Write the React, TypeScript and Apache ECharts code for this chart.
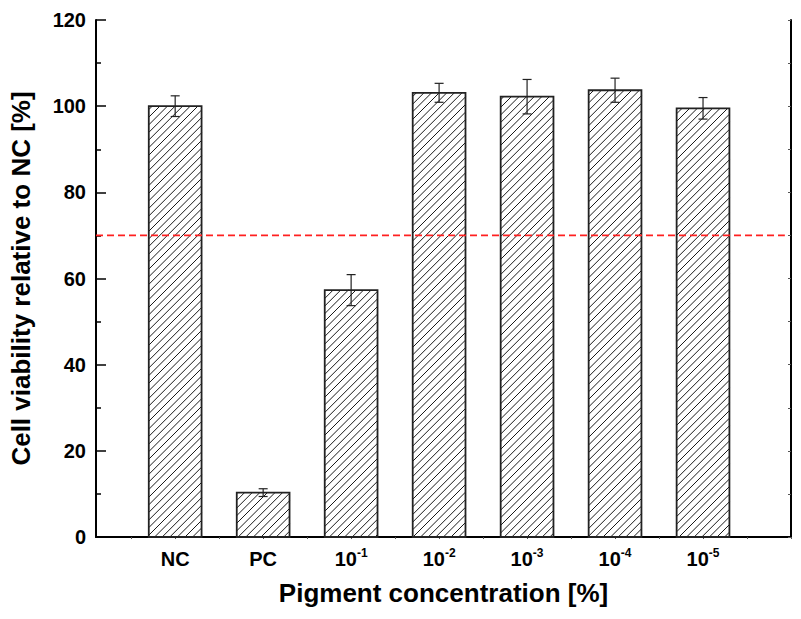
import React, { useEffect, useRef } from 'react';
import * as echarts from 'echarts';

const categories = ['NC', 'PC', '10^-1', '10^-2', '10^-3', '10^-4', '10^-5'];
const positions = [1, 2, 3, 4, 5, 6, 7];
const viability = [100.0, 10.3, 57.3, 103.1, 102.2, 103.7, 99.5];
const errors = [2.4, 0.9, 3.6, 2.2, 4.0, 2.8, 2.5];
const topTicks = [0.5, 1, 1.5, 2, 2.5, 3, 3.5, 4, 4.5, 5, 5.5, 6, 6.5, 7, 7.5, 8];
const threshold = 70;
const thresholdSpan = [0.1, 7.93];

const FONT = 'Liberation Sans, Arial, Helvetica, sans-serif';

function labelFor(v: number): string {
  const i = Math.round(v) - 1;
  const c = categories[i];
  if (c === undefined) return '';
  if (c.indexOf('^') >= 0) {
    const [b, e] = c.split('^');
    return `{b|${b}}{sup|${e}}`;
  }
  return `{b|${c}}`;
}

export default function App() {
  const ref = useRef<HTMLDivElement>(null);
  useEffect(() => {
    if (!ref.current) return;
    const chart = echarts.init(ref.current, null, { renderer: 'svg' });
    const barData = positions.map((p, i) => [p, viability[i], errors[i]]);

    const option: any = {
      animation: false,
      backgroundColor: '#fff',
      textStyle: { fontFamily: FONT },
      grid: { left: 96, right: 10, top: 20, bottom: 82, containLabel: false },
      xAxis: [
        {
          type: 'value',
          position: 'bottom',
          min: 0.1,
          max: 8,
          name: 'Pigment concentration [%]',
          nameLocation: 'middle',
          nameGap: 43,
          nameTextStyle: { fontFamily: FONT, fontSize: 26, fontWeight: 'bold', color: '#000' },
          axisLine: { show: true, lineStyle: { color: '#000', width: 2 } },
          axisTick: { show: true, inside: true, length: 8, customValues: positions, lineStyle: { color: '#000', width: 1.5 } },
          axisLabel: {
            show: true,
            customValues: positions,
            margin: 10,
            fontFamily: FONT,
            fontSize: 20,
            fontWeight: 'bold',
            color: '#000',
            formatter: labelFor,
            rich: {
              b: { fontFamily: FONT, fontSize: 20, fontWeight: 'bold', color: '#000', lineHeight: 22, verticalAlign: 'bottom' },
              sup: { fontFamily: FONT, fontSize: 12, fontWeight: 'bold', color: '#000', lineHeight: 12, verticalAlign: 'top' },
            },
          },
          splitLine: { show: false },
        },
        {
          type: 'value',
          position: 'top',
          min: 0.1,
          max: 8,
          axisLine: { show: true, lineStyle: { color: '#000', width: 1.5 } },
          axisTick: { show: true, inside: true, length: 2, customValues: topTicks, lineStyle: { color: '#555', width: 1 } },
          axisLabel: { show: false },
          splitLine: { show: false },
        },
      ],
      yAxis: [
        {
          type: 'value',
          position: 'left',
          min: 0,
          max: 120,
          interval: 20,
          name: 'Cell viability relative to NC [%]',
          nameLocation: 'middle',
          nameGap: 62,
          nameTextStyle: { fontFamily: FONT, fontSize: 26, fontWeight: 'bold', color: '#000' },
          axisLine: { show: true, lineStyle: { color: '#000', width: 2 } },
          axisTick: { show: true, inside: true, length: 10, lineStyle: { color: '#000', width: 1.5 } },
          minorTick: { show: true, splitNumber: 2, length: 5, lineStyle: { color: '#000', width: 1.5 } },
          axisLabel: {
            show: true,
            margin: 10,
            fontFamily: FONT,
            fontSize: 20,
            fontWeight: 'bold',
            color: '#000',
            formatter: '{v|{value}}',
            rich: {
              v: { fontFamily: FONT, fontSize: 20, fontWeight: 'bold', color: '#000', lineHeight: 22 },
            },
          },
          splitLine: { show: false },
        },
        {
          type: 'value',
          position: 'right',
          min: 0,
          max: 120,
          interval: 10,
          axisLine: { show: true, lineStyle: { color: '#000', width: 2 } },
          axisTick: { show: true, inside: true, length: 3, lineStyle: { color: '#555', width: 1 } },
          axisLabel: { show: false },
          splitLine: { show: false },
        },
      ],
      series: [
        {
          type: 'custom',
          name: 'bars',
          xAxisIndex: 0,
          yAxisIndex: 0,
          data: barData,
          encode: { x: 0, y: 1 },
          z: 2,
          renderItem: (params: any, api: any) => {
            const x = api.value(0);
            const y = api.value(1);
            const top = api.coord([x, y]);
            const base = api.coord([x, 0]);
            const bw = api.size([0.6, 0])[0];
            const x0 = top[0] - bw / 2;
            const x1 = top[0] + bw / 2;
            const y0 = top[1];
            const y1 = base[1];
            const step = 7.6;
            const children: any[] = [
              { type: 'rect', shape: { x: x0, y: y0, width: x1 - x0, height: y1 - y0 }, style: { fill: '#fff', stroke: 'none' } },
            ];
            for (let c = Math.ceil((x0 + y0) / step) * step; c <= x1 + y1; c += step) {
              const xa = Math.max(x0, c - y1);
              const xb = Math.min(x1, c - y0);
              if (xb > xa) {
                children.push({
                  type: 'line',
                  shape: { x1: xa, y1: c - xa, x2: xb, y2: c - xb },
                  style: { stroke: '#1a1a1a', lineWidth: 1 },
                });
              }
            }
            children.push({
              type: 'rect',
              shape: { x: x0, y: y0, width: x1 - x0, height: y1 - y0 },
              style: { fill: 'none', stroke: '#222', lineWidth: 1.8 },
            });
            return { type: 'group', children };
          },
        },
        {
          type: 'custom',
          name: 'errors',
          xAxisIndex: 0,
          yAxisIndex: 0,
          data: barData,
          encode: { x: 0, y: 1 },
          z: 3,
          renderItem: (params: any, api: any) => {
            const x = api.value(0);
            const y = api.value(1);
            const e = api.value(2);
            const hi = api.coord([x, y + e]);
            const lo = api.coord([x, y - e]);
            const cap = 4.5;
            const st = { stroke: '#222', lineWidth: 1.2 };
            return {
              type: 'group',
              children: [
                { type: 'line', shape: { x1: hi[0], y1: hi[1], x2: lo[0], y2: lo[1] }, style: st },
                { type: 'line', shape: { x1: hi[0] - cap, y1: hi[1], x2: hi[0] + cap, y2: hi[1] }, style: st },
                { type: 'line', shape: { x1: lo[0] - cap, y1: lo[1], x2: lo[0] + cap, y2: lo[1] }, style: st },
              ],
            };
          },
        },
        {
          type: 'line',
          name: 'threshold',
          xAxisIndex: 0,
          yAxisIndex: 0,
          data: thresholdSpan.map((x) => [x, threshold]),
          symbol: 'none',
          z: 4,
          lineStyle: { color: '#ff2020', width: 1.6, type: [7, 4] },
        },
      ],
    };
    chart.setOption(option);
    return () => chart.dispose();
  }, []);
  return <div ref={ref} style={{ position: 'absolute', left: 0, top: 0, width: 801, height: 619 }} />;
}
